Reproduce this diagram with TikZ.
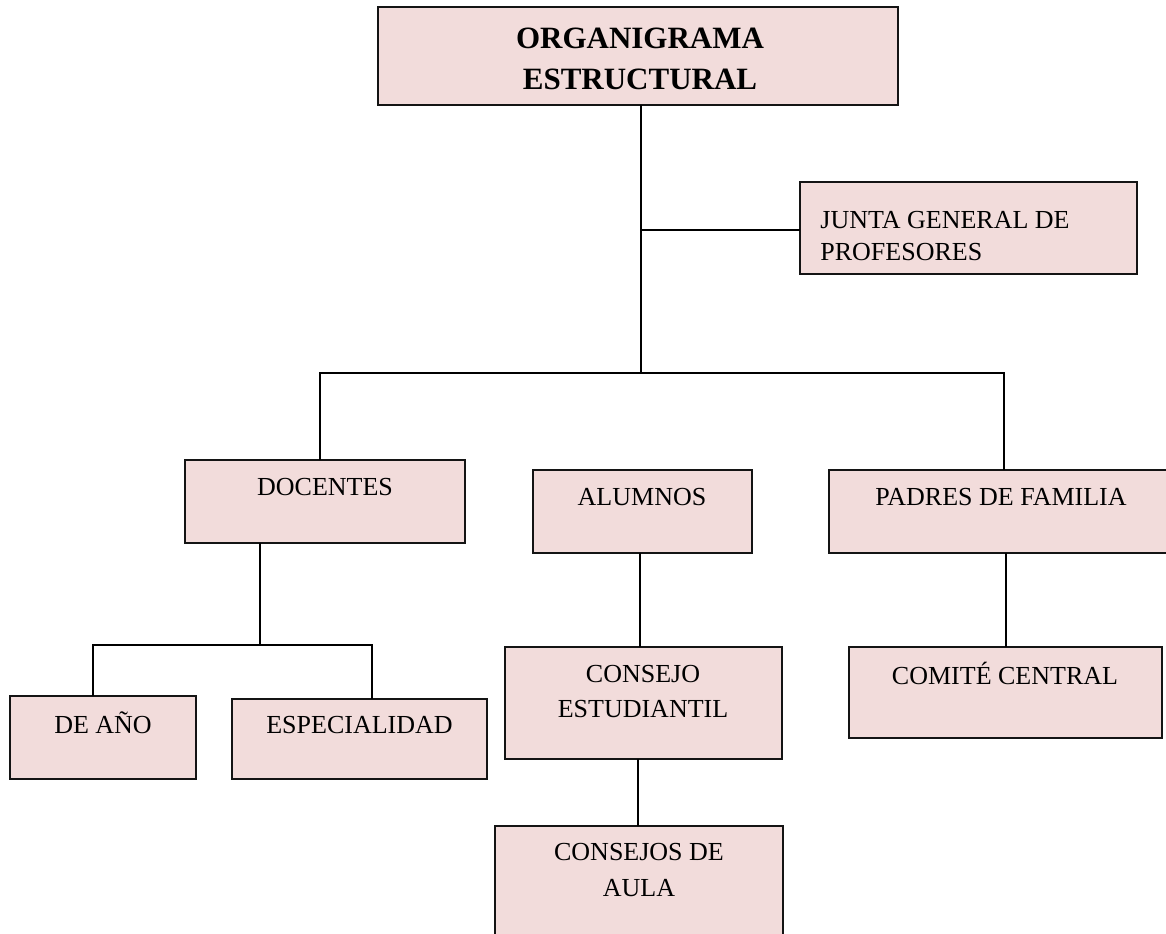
\documentclass[tikz,border=0pt]{standalone}
\usepackage{fontspec}
\setmainfont{Liberation Serif}
\definecolor{boxfill}{RGB}{242,220,219}
\definecolor{boxline}{RGB}{20,20,20}
\begin{document}
\begin{tikzpicture}[x=0.5pt,y=-0.5pt,
  box/.style={draw=boxline, fill=boxfill, line width=1pt, rectangle, anchor=north west, inner sep=0pt, outer sep=0pt},
  txt/.style={font=\fontsize{13}{17.5}\selectfont, align=center, inner sep=0pt},
  ttl/.style={font=\fontsize{15.5}{20.5}\selectfont\bfseries, align=center, inner sep=0pt},
  conn/.style={draw=black, line width=1pt}]
\useasboundingbox (0,0) rectangle (1166,933);
\clip (0,0) rectangle (1166,933);
\fill[white] (0,0) rectangle (1166,933);
% boxes
\node[box, minimum width=260pt, minimum height=49pt] (title) at (378,7) {};
\node[box, minimum width=168.5pt, minimum height=46pt] (junta) at (800,182) {};
\node[box, minimum width=140pt, minimum height=41.5pt] (doc) at (185,460) {};
\node[box, minimum width=109.5pt, minimum height=41.5pt] (alu) at (533,470) {};
\node[box, minimum width=175.5pt, minimum height=41.5pt] (pad) at (829,470) {};
\node[box, minimum width=93pt, minimum height=41.5pt] (dea) at (10,696) {};
\node[box, minimum width=127.5pt, minimum height=40pt] (esp) at (232,699) {};
\node[box, minimum width=138.5pt, minimum height=56pt] (ce) at (505,647) {};
\node[box, minimum width=144pt, minimum height=62pt] (aula) at (495,826) {};
\node[box, minimum width=156.5pt, minimum height=45.5pt] (com) at (849,647) {};
% texts
\node[ttl] (titlet) at (640,59) {ORGANIGRAMA\\ESTRUCTURAL};
\node[txt, align=left, anchor=west, font=\fontsize{13}{16}\selectfont] (juntat) at (820,236) {JUNTA GENERAL DE\\PROFESORES};
\node[txt] (doct) at (325,487) {DOCENTES};
\node[txt] (alut) at (642,497) {ALUMNOS};
\node[txt] (padt) at (1001,497) {PADRES DE FAMILIA};
\node[txt] (deat) at (103,723) {DE AÑO};
\node[txt] (espt) at (359.5,725) {ESPECIALIDAD};
\node[txt] (cet) at (643,692) {CONSEJO\\ESTUDIANTIL};
\node[txt] (aulat) at (639,870) {CONSEJOS DE\\AULA};
\node[txt] (comt) at (1005,673) {COMITÉ CENTRAL};
% connector coordinates
\coordinate (hub) at (641,373);
\coordinate (jb) at (641,230);
\coordinate (hl) at (320,373);
\coordinate (hr) at (1004,373);
\coordinate (dm) at (260,645);
\coordinate (dl) at (93,645);
\coordinate (dr) at (372,645);
\coordinate (ax) at (640,600);
\coordinate (cx) at (638,790);
\coordinate (px) at (1006,600);
% connectors
\draw[conn] (title.south -| hub) -- (hub);
\draw[conn] (jb) -- (jb -| junta.west);
\draw[conn] (doc.north -| hl) -- (hl) -- (hr) -- (hr |- pad.north);
\draw[conn] (doc.south -| dm) -- (dm);
\draw[conn] (dl |- dea.north) -- (dl) -- (dr) -- (dr |- esp.north);
\draw[conn] (alu.south -| ax) -- (ce.north -| ax);
\draw[conn] (ce.south -| cx) -- (aula.north -| cx);
\draw[conn] (pad.south -| px) -- (com.north -| px);
\end{tikzpicture}
\end{document}
